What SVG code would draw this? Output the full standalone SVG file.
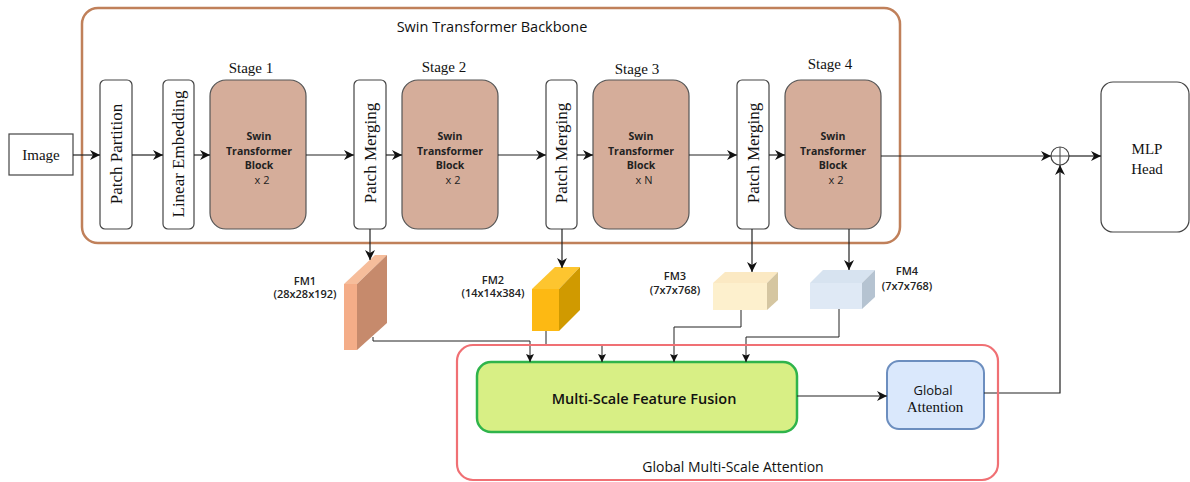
<svg xmlns="http://www.w3.org/2000/svg" width="1190" height="482" viewBox="0 0 1190 482">
  <defs>
    <marker id="arr" viewBox="0 0 10 10" refX="10" refY="5" markerWidth="10" markerHeight="10" markerUnits="userSpaceOnUse" orient="auto">
      <path d="M0,0 L10,5 L0,10 L3,5 Z" fill="#111"/>
    </marker>
    <marker id="arrs" viewBox="0 0 10 10" refX="10" refY="5" markerWidth="8" markerHeight="8" markerUnits="userSpaceOnUse" orient="auto">
      <path d="M0,0 L10,5 L0,10 L2,5 Z" fill="#111"/>
    </marker>
    <style>
      .serif { font-family: "Liberation Serif", "Times New Roman", serif; fill: #111; }
      .sans { font-family: "Open Sans", "Noto Sans", "DejaVu Sans", sans-serif; fill: #111; }
      .blk { font-family: "Open Sans", "Noto Sans", sans-serif; font-weight: 700; font-size: 10.5px; fill: #222; text-anchor: middle; }
      .cnt { font-family: "Open Sans", "Noto Sans", sans-serif; font-weight: 400; font-size: 11px; fill: #222; text-anchor: middle; }
      .fm { font-family: "Open Sans", "Noto Sans", sans-serif; font-weight: 600; font-size: 11px; fill: #222; text-anchor: middle; }
      .wbox { fill: #fff; stroke: #444; stroke-width: 1.2; }
      .stage { fill: #d5ad9a; stroke: #555; stroke-width: 1.2; }
      .line { fill: none; stroke: #222; stroke-width: 1.2; }
      .thin { fill: none; stroke: #222; stroke-width: 1; }
    </style>
  </defs>

  <!-- backbone frame -->
  <g id="backbone">
    <rect x="82" y="8" width="818" height="235" rx="16" fill="none" stroke="#c0805a" stroke-width="2.5"/>
    <text class="sans" x="492" y="32" font-size="14.5" text-anchor="middle">Swin Transformer Backbone</text>
  </g>

  <g id="image">
    <rect x="9" y="134" width="64" height="41" fill="#fff" stroke="#444" stroke-width="1.2"/>
    <text class="serif" x="41" y="160" font-size="15" text-anchor="middle">Image</text>
  </g>

  <g id="patch-partition">
    <rect class="wbox" x="100" y="80" width="32" height="149" rx="5"/>
    <text class="serif" font-size="17" text-anchor="middle" transform="translate(122,154) rotate(-90)">Patch Partition</text>
  </g>

  <g id="linear-embedding">
    <rect class="wbox" x="163" y="80" width="31" height="149" rx="5"/>
    <text class="serif" font-size="17" text-anchor="middle" transform="translate(184,154) rotate(-90)">Linear Embedding</text>
  </g>

  <g id="stage1">
    <text class="serif" x="251" y="73" font-size="15" text-anchor="middle">Stage 1</text>
    <rect class="stage" x="210" y="80" width="96" height="149" rx="16"/>
    <text class="blk" x="259" y="140">Swin</text>
    <text class="blk" x="259" y="155">Transformer</text>
    <text class="blk" x="259" y="169">Block</text>
    <text class="cnt" x="262" y="184">x 2</text>
  </g>

  <g id="patch-merging1">
    <rect class="wbox" x="354" y="80" width="32" height="149" rx="5"/>
    <text class="serif" font-size="17" text-anchor="middle" transform="translate(376,153) rotate(-90)">Patch Merging</text>
  </g>

  <g id="stage2">
    <text class="serif" x="444" y="72" font-size="15" text-anchor="middle">Stage 2</text>
    <rect class="stage" x="402" y="80" width="96" height="149" rx="16"/>
    <text class="blk" x="450" y="140">Swin</text>
    <text class="blk" x="450" y="155">Transformer</text>
    <text class="blk" x="450" y="169">Block</text>
    <text class="cnt" x="453" y="184">x 2</text>
  </g>

  <g id="patch-merging2">
    <rect class="wbox" x="546" y="80" width="31" height="149" rx="5"/>
    <text class="serif" font-size="17" text-anchor="middle" transform="translate(567,153) rotate(-90)">Patch Merging</text>
  </g>

  <g id="stage3">
    <text class="serif" x="637" y="74" font-size="15" text-anchor="middle">Stage 3</text>
    <rect class="stage" x="593" y="80" width="96" height="149" rx="16"/>
    <text class="blk" x="641" y="140">Swin</text>
    <text class="blk" x="641" y="155">Transformer</text>
    <text class="blk" x="641" y="169">Block</text>
    <text class="cnt" x="644" y="184">x N</text>
  </g>

  <g id="patch-merging3">
    <rect class="wbox" x="737" y="80" width="32" height="149" rx="5"/>
    <text class="serif" font-size="17" text-anchor="middle" transform="translate(759,153) rotate(-90)">Patch Merging</text>
  </g>

  <g id="stage4">
    <text class="serif" x="830" y="69" font-size="15" text-anchor="middle">Stage 4</text>
    <rect class="stage" x="785" y="80" width="96" height="149" rx="16"/>
    <text class="blk" x="833" y="140">Swin</text>
    <text class="blk" x="833" y="155">Transformer</text>
    <text class="blk" x="833" y="169">Block</text>
    <text class="cnt" x="836" y="184">x 2</text>
  </g>

  <g id="sum">
    <circle cx="1060" cy="156" r="9" fill="#fff" stroke="#444" stroke-width="1.2"/>
    <line x1="1051" y1="156" x2="1069" y2="156" stroke="#444" stroke-width="1"/>
    <line x1="1060" y1="147" x2="1060" y2="165" stroke="#444" stroke-width="1"/>
  </g>

  <g id="mlp-head">
    <rect class="wbox" x="1101" y="82" width="88" height="150" rx="12"/>
    <text class="serif" x="1147" y="154" font-size="15" text-anchor="middle">MLP</text>
    <text class="serif" x="1147" y="174" font-size="15" text-anchor="middle">Head</text>
  </g>

  <!-- feature maps -->
  <g id="fm1">
    <polygon points="344,284 375,255 387,255 357,284" fill="#f6bd9b"/>
    <polygon points="357,284 387,255 387,323 357,350" fill="#c68a6c"/>
    <rect x="344" y="284" width="13" height="66" fill="#f4ad88"/>
    <text class="fm" x="305" y="285">FM1</text>
    <text class="fm" x="305" y="298">(28x28x192)</text>
  </g>

  <g id="fm2">
    <polygon points="532,289 555,267 580,267 559,289" fill="#fdc52f"/>
    <polygon points="559,289 580,267 580,310 559,331" fill="#d09a00"/>
    <rect x="532" y="289" width="27" height="42" fill="#fdb913"/>
    <text class="fm" x="493" y="284">FM2</text>
    <text class="fm" x="493" y="297">(14x14x384)</text>
  </g>

  <g id="fm3">
    <polygon points="713,283 725,272 778,272 767,283" fill="#fbe9c3"/>
    <polygon points="767,283 778,272 778,300 767,310" fill="#d5c6a1"/>
    <rect x="713" y="283" width="54" height="27" fill="#fdf0cd"/>
    <text class="fm" x="675" y="280">FM3</text>
    <text class="fm" x="675" y="294">(7x7x768)</text>
  </g>

  <g id="fm4">
    <polygon points="810,283 823,270 875,270 862,283" fill="#d7e3f0"/>
    <polygon points="862,283 875,270 875,297 862,309" fill="#b5c3d1"/>
    <rect x="810" y="283" width="52" height="26" fill="#dfe9f5"/>
    <text class="fm" x="907" y="275">FM4</text>
    <text class="fm" x="907" y="290">(7x7x768)</text>
  </g>

  <g id="msff">
    <rect x="477" y="362" width="320" height="70" rx="14" fill="#d8ef85" stroke="#2fb44b" stroke-width="2.5"/>
    <text class="sans" x="644" y="404" font-size="14.5" font-weight="600" text-anchor="middle">Multi-Scale Feature Fusion</text>
  </g>

  <g id="global-attention">
    <rect x="887" y="361" width="97" height="68" rx="12" fill="#dae8fc" stroke="#6c8ebf" stroke-width="2"/>
    <text class="sans" x="933" y="395" font-size="13" text-anchor="middle">Global</text>
    <text class="serif" x="935" y="412" font-size="15" text-anchor="middle">Attention</text>
  </g>

  <!-- connectors -->
  <g id="connectors">
    <line class="line" x1="73" y1="155" x2="100" y2="155" marker-end="url(#arr)"/>
    <line class="line" x1="132" y1="155" x2="163" y2="155" marker-end="url(#arr)"/>
    <line class="line" x1="194" y1="155" x2="210" y2="155" marker-end="url(#arr)"/>
    <line class="line" x1="306" y1="155" x2="354" y2="155" marker-end="url(#arr)"/>
    <line class="line" x1="386" y1="155" x2="402" y2="155" marker-end="url(#arr)"/>
    <line class="line" x1="498" y1="155" x2="546" y2="155" marker-end="url(#arr)"/>
    <line class="line" x1="577" y1="155" x2="593" y2="155" marker-end="url(#arr)"/>
    <line class="line" x1="689" y1="155" x2="737" y2="155" marker-end="url(#arr)"/>
    <line class="line" x1="769" y1="155" x2="785" y2="155" marker-end="url(#arr)"/>
    <line class="line" x1="881" y1="156" x2="1051" y2="156" marker-end="url(#arr)"/>
    <line class="line" x1="1069" y1="156" x2="1101" y2="156" marker-end="url(#arr)"/>

    <line class="line" x1="370" y1="229" x2="370" y2="260" marker-end="url(#arr)"/>
    <line class="line" x1="562" y1="229" x2="562" y2="268" marker-end="url(#arr)"/>
    <line class="line" x1="752" y1="229" x2="752" y2="272" marker-end="url(#arr)"/>
    <line class="line" x1="849" y1="229" x2="849" y2="270" marker-end="url(#arr)"/>

    <polyline class="thin" points="373,337 373,341 530,341 530,362" marker-end="url(#arrs)"/>
    <polyline class="thin" points="546,331 546,345 602,345 602,362" marker-end="url(#arrs)"/>
    <polyline class="thin" points="741,310 741,327 674,327 674,362" marker-end="url(#arrs)"/>
    <polyline class="thin" points="839,309 839,337 746,337 746,362" marker-end="url(#arrs)"/>

    <line class="line" x1="797" y1="396" x2="887" y2="396" marker-end="url(#arr)"/>
    <polyline class="line" points="984,393 1060,393 1060,165" marker-end="url(#arr)"/>
  </g>

  <!-- attention frame, drawn over the feed lines it shares an edge with -->
  <g id="gmsa">
    <rect x="457" y="345" width="541" height="135" rx="16" fill="none" stroke="#f07074" stroke-width="2.2"/>
    <text class="sans" x="733" y="472" font-size="14" text-anchor="middle">Global Multi-Scale Attention</text>
  </g>
</svg>
